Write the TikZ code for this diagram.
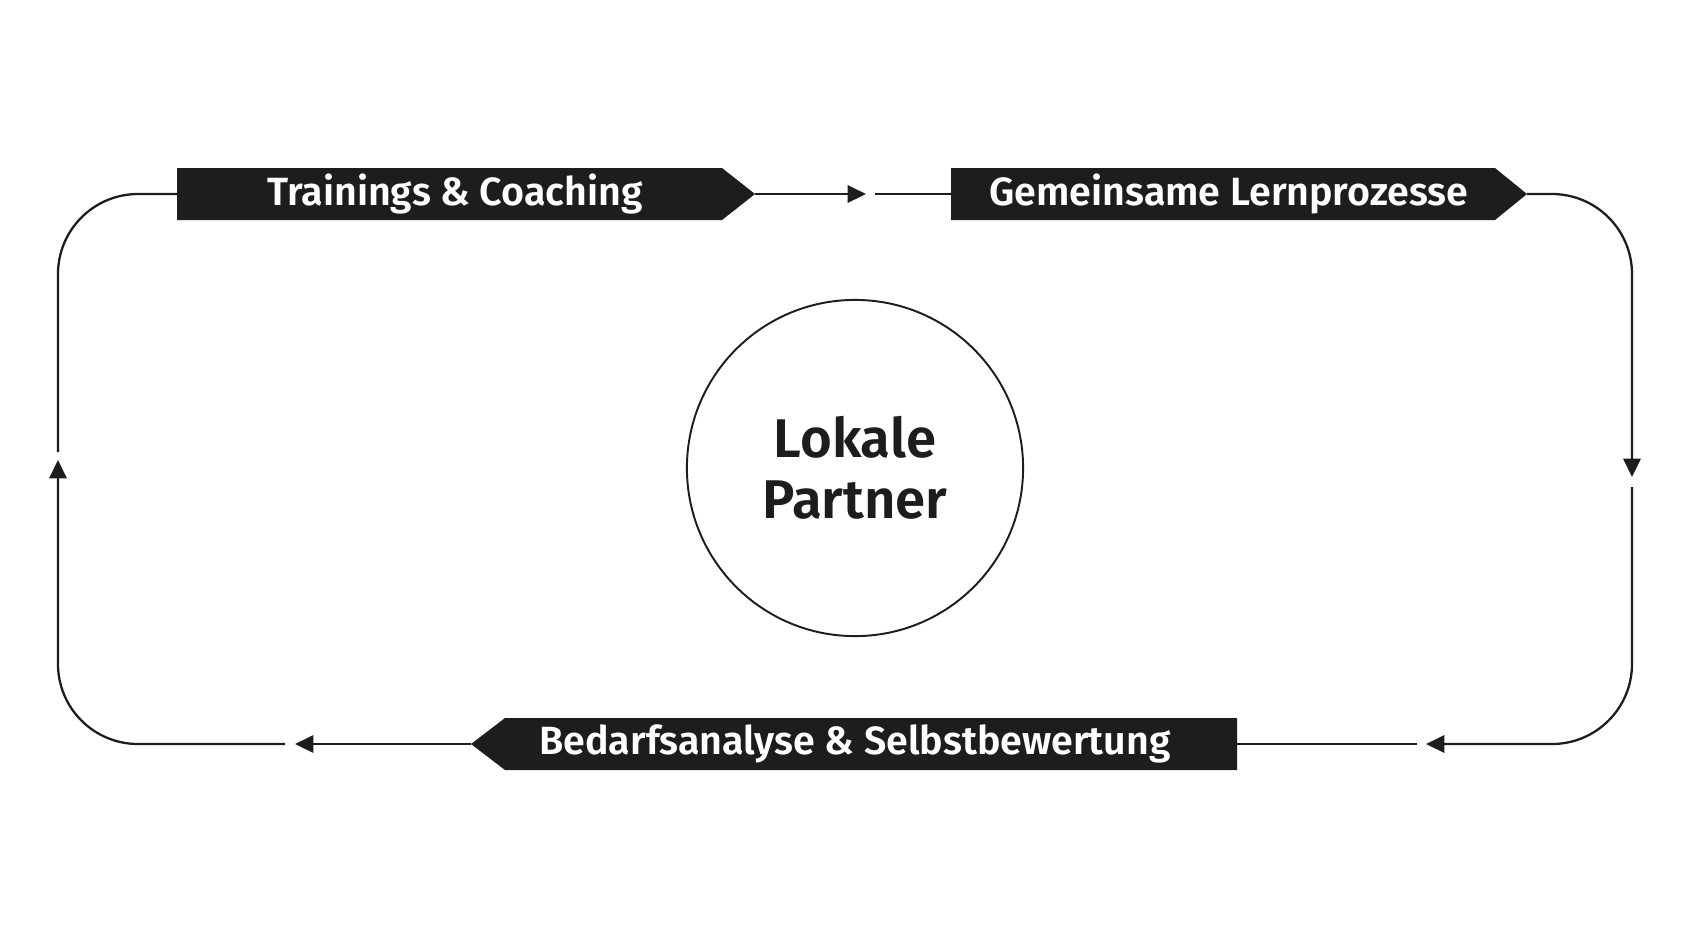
\documentclass[tikz,border=0pt]{standalone}
\usepackage{fontspec}
\setmainfont{Fira Sans}
\newfontfamily\semifont{Fira Sans SemiBold}
\usepackage{tikz}
\usetikzlibrary{arrows.meta}

\definecolor{ink}{HTML}{1D1D1B}
\tikzset{
  arr/.style={-{Triangle[length=5.2pt,width=4.9pt]}},
  labeltext/.style={text=white,font=\semifont\fontsize{11.2}{13}\selectfont,inner sep=0pt},
  partner/.style={circle,draw=ink,line width=0.55pt,minimum size=3.36cm,align=center,
    text=ink,font=\semifont\fontsize{15.5}{17.4}\selectfont}
}

\begin{document}
\begin{tikzpicture}[x=0.01cm,y=-0.01cm,line width=0.65pt,draw=ink,fill=ink]
\useasboundingbox (0,0) rectangle (1684,947);

%end points of the labels
\coordinate (tcW) at (177,194);
\coordinate (tcE) at (755,194);
\coordinate (glW) at (951,194);
\coordinate (glE) at (1527,194);
\coordinate (bsE) at (1237,744);
\coordinate (bsW) at (471,744);

%labels
\fill[ink] (177,168) -- (722,168) -- (tcE) -- (722,220) -- (177,220) -- cycle;
\node[labeltext] (tc) at (455,194) {Trainings \& Coaching};
\fill[ink] (glW) |- (1495,168) -- (glE) -- (1495,220) -| cycle;
\node[labeltext] (gl) at (1229,194) {Gemeinsame Lernprozesse};
\fill[ink] (bsW) -- (505,718) -- (1237,718) -- (1237,770) -- (505,770) -- cycle;
\node[labeltext] (bs) at (855,744) {Bedarfsanalyse \& Selbstbewertung};

%centre
\node[partner] (lp) at (855,468) {Lokale\\Partner};

%arrow tips and gaps
\coordinate (a1) at (866,194);  \coordinate (a1b) at (875,194);
\coordinate (a2) at (1632,477); \coordinate (a2b) at (1632,487);
\coordinate (a3) at (1426,744); \coordinate (a3b) at (1417,744);
\coordinate (a4) at (295,744);  \coordinate (a4b) at (285,744);
\coordinate (a5) at (58,460);   \coordinate (a5b) at (58,452);

%cycle
\draw[arr] (tcE) -- (a1);
\draw (a1b) -- (glW);
\draw[arr,rounded corners=0.8cm] (glE) -- (1632,194) -- (a2);
\draw[arr,rounded corners=0.8cm] (a2b) -- (1632,744) -- (a3);
\draw (a3b) -- (bsE);
\draw[arr] (bsW) -- (a4);
\draw[arr,rounded corners=0.8cm] (a4b) -- (58,744) -- (a5);
\draw[rounded corners=0.8cm] (a5b) -- (58,194) -- (tcW);
\end{tikzpicture}
\end{document}
